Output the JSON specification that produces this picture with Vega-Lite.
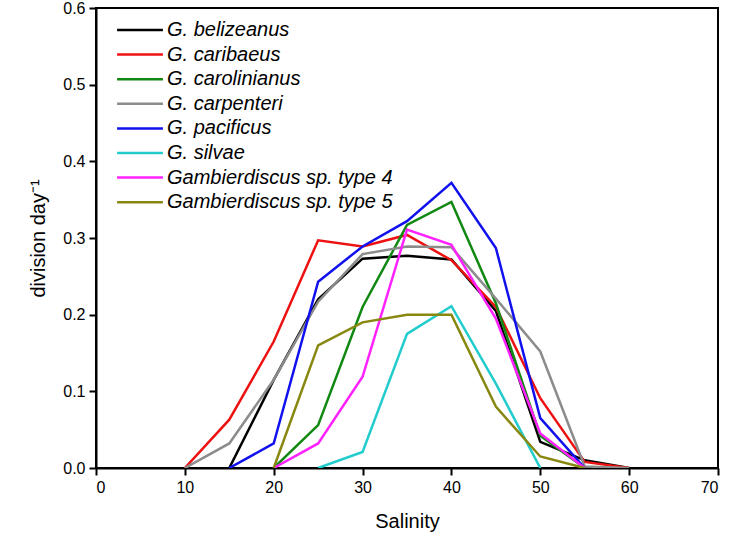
{
  "$schema": "https://vega.github.io/schema/vega-lite/v6.json",
  "width": 622,
  "height": 460,
  "autosize": "none",
  "padding": {"left": 96, "top": 8, "right": 14, "bottom": 78},
  "background": "white",
  "config": {
    "font": "Liberation Sans",
    "view": {"stroke": "black", "strokeWidth": 2},
    "axis": {"grid": false, "domainColor": "black", "domainWidth": 2, "tickColor": "black", "tickWidth": 2, "tickSize": 7, "labelFont": "Liberation Sans", "labelFontSize": 16, "labelColor": "black", "titleFont": "Liberation Sans", "titleFontSize": 20, "titleFontWeight": "normal", "titleColor": "black"}
  },
  "data": {"values": [
    {"species": "G. belizeanus", "salinity": 15, "rate": 0},
    {"species": "G. belizeanus", "salinity": 20, "rate": 0.115},
    {"species": "G. belizeanus", "salinity": 25, "rate": 0.22},
    {"species": "G. belizeanus", "salinity": 30, "rate": 0.273},
    {"species": "G. belizeanus", "salinity": 35, "rate": 0.277},
    {"species": "G. belizeanus", "salinity": 40, "rate": 0.272},
    {"species": "G. belizeanus", "salinity": 45, "rate": 0.205},
    {"species": "G. belizeanus", "salinity": 50, "rate": 0.034},
    {"species": "G. belizeanus", "salinity": 55, "rate": 0.01},
    {"species": "G. belizeanus", "salinity": 60, "rate": 0},
    {"species": "G. caribaeus", "salinity": 10, "rate": 0},
    {"species": "G. caribaeus", "salinity": 15, "rate": 0.063},
    {"species": "G. caribaeus", "salinity": 20, "rate": 0.165},
    {"species": "G. caribaeus", "salinity": 25, "rate": 0.297},
    {"species": "G. caribaeus", "salinity": 30, "rate": 0.289},
    {"species": "G. caribaeus", "salinity": 35, "rate": 0.304},
    {"species": "G. caribaeus", "salinity": 40, "rate": 0.271},
    {"species": "G. caribaeus", "salinity": 45, "rate": 0.21},
    {"species": "G. caribaeus", "salinity": 50, "rate": 0.091},
    {"species": "G. caribaeus", "salinity": 55, "rate": 0.008},
    {"species": "G. caribaeus", "salinity": 60, "rate": 0},
    {"species": "G. carolinianus", "salinity": 20, "rate": 0},
    {"species": "G. carolinianus", "salinity": 25, "rate": 0.056},
    {"species": "G. carolinianus", "salinity": 30, "rate": 0.21},
    {"species": "G. carolinianus", "salinity": 35, "rate": 0.317},
    {"species": "G. carolinianus", "salinity": 40, "rate": 0.347},
    {"species": "G. carolinianus", "salinity": 45, "rate": 0.215},
    {"species": "G. carolinianus", "salinity": 50, "rate": 0.042},
    {"species": "G. carolinianus", "salinity": 55, "rate": 0},
    {"species": "G. carpenteri", "salinity": 10, "rate": 0},
    {"species": "G. carpenteri", "salinity": 15, "rate": 0.032},
    {"species": "G. carpenteri", "salinity": 20, "rate": 0.115},
    {"species": "G. carpenteri", "salinity": 25, "rate": 0.217},
    {"species": "G. carpenteri", "salinity": 30, "rate": 0.279},
    {"species": "G. carpenteri", "salinity": 35, "rate": 0.289},
    {"species": "G. carpenteri", "salinity": 40, "rate": 0.288},
    {"species": "G. carpenteri", "salinity": 45, "rate": 0.221},
    {"species": "G. carpenteri", "salinity": 50, "rate": 0.152},
    {"species": "G. carpenteri", "salinity": 55, "rate": 0.002},
    {"species": "G. carpenteri", "salinity": 60, "rate": 0},
    {"species": "G. pacificus", "salinity": 15, "rate": 0},
    {"species": "G. pacificus", "salinity": 20, "rate": 0.032},
    {"species": "G. pacificus", "salinity": 25, "rate": 0.243},
    {"species": "G. pacificus", "salinity": 30, "rate": 0.289},
    {"species": "G. pacificus", "salinity": 35, "rate": 0.322},
    {"species": "G. pacificus", "salinity": 40, "rate": 0.372},
    {"species": "G. pacificus", "salinity": 45, "rate": 0.287},
    {"species": "G. pacificus", "salinity": 50, "rate": 0.065},
    {"species": "G. pacificus", "salinity": 55, "rate": 0},
    {"species": "G. silvae", "salinity": 25, "rate": 0},
    {"species": "G. silvae", "salinity": 30, "rate": 0.021},
    {"species": "G. silvae", "salinity": 35, "rate": 0.175},
    {"species": "G. silvae", "salinity": 40, "rate": 0.211},
    {"species": "G. silvae", "salinity": 45, "rate": 0.11},
    {"species": "G. silvae", "salinity": 50, "rate": 0},
    {"species": "Gambierdiscus sp. type 4", "salinity": 20, "rate": 0},
    {"species": "Gambierdiscus sp. type 4", "salinity": 25, "rate": 0.032},
    {"species": "Gambierdiscus sp. type 4", "salinity": 30, "rate": 0.119},
    {"species": "Gambierdiscus sp. type 4", "salinity": 35, "rate": 0.311},
    {"species": "Gambierdiscus sp. type 4", "salinity": 40, "rate": 0.291},
    {"species": "Gambierdiscus sp. type 4", "salinity": 45, "rate": 0.195},
    {"species": "Gambierdiscus sp. type 4", "salinity": 50, "rate": 0.045},
    {"species": "Gambierdiscus sp. type 4", "salinity": 55, "rate": 0},
    {"species": "Gambierdiscus sp. type 5", "salinity": 20, "rate": 0},
    {"species": "Gambierdiscus sp. type 5", "salinity": 25, "rate": 0.16},
    {"species": "Gambierdiscus sp. type 5", "salinity": 30, "rate": 0.19},
    {"species": "Gambierdiscus sp. type 5", "salinity": 35, "rate": 0.2},
    {"species": "Gambierdiscus sp. type 5", "salinity": 40, "rate": 0.2},
    {"species": "Gambierdiscus sp. type 5", "salinity": 45, "rate": 0.08},
    {"species": "Gambierdiscus sp. type 5", "salinity": 50, "rate": 0.015},
    {"species": "Gambierdiscus sp. type 5", "salinity": 55, "rate": 0}
  ]},
  "mark": {"type": "line", "strokeWidth": 2.5, "clip": true},
  "encoding": {
    "x": {"field": "salinity", "type": "quantitative", "title": "Salinity",
      "scale": {"domain": [0, 70], "nice": false},
      "axis": {"values": [0, 10, 20, 30, 40, 50, 60, 70], "titlePadding": 16, "labelPadding": 4}},
    "y": {"field": "rate", "type": "quantitative", "title": "division day\u207B\u00B9",
      "scale": {"domain": [0, 0.6], "nice": false},
      "axis": {"values": [0, 0.1, 0.2, 0.3, 0.4, 0.5, 0.6], "format": ".1f", "titlePadding": 14, "labelPadding": 4}},
    "color": {"field": "species", "type": "nominal",
      "scale": {"domain": ["G. belizeanus", "G. caribaeus", "G. carolinianus", "G. carpenteri", "G. pacificus", "G. silvae", "Gambierdiscus sp. type 4", "Gambierdiscus sp. type 5"],
        "range": ["#000000", "#ee1111", "#118811", "#8c8c8c", "#1111ee", "#22cccc", "#ff22ff", "#888811"]},
      "legend": {"orient": "none", "legendX": 31, "legendY": 9, "padding": 0, "title": null, "symbolType": "M-2,0H2", "symbolSize": 525, "symbolStrokeWidth": 2.5, "labelFontSize": 20, "labelFontStyle": "italic", "labelColor": "black", "labelFont": "Liberation Sans", "rowPadding": 1.6, "labelOffset": 14, "labelLimit": 400}}
  }
}
